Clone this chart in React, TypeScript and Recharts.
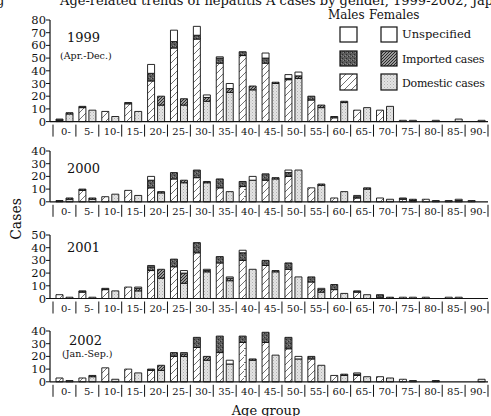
import React from 'react';
import { BarChart, Bar, XAxis, YAxis } from 'recharts';

const ageGroups = ['0-', '5-', '10-', '15-', '20-', '25-', '30-', '35-', '40-', '45-', '50-', '55-', '60-', '65-', '70-', '75-', '80-', '85-', '90-'];

// 1999 (Apr.-Dec.)
const male1999Domestic = [1, 11, 8, 14, 32, 58, 65, 46, 52, 46, 33, 17, 3, 9, 9, 1, 0, 0, 0];
const male1999Imported = [1, 1, 0, 1, 6, 5, 3, 4, 3, 4, 1, 3, 1, 0, 0, 0, 0, 0, 0];
const male1999Unspec = [0, 0, 0, 0, 7, 9, 7, 1, 0, 4, 3, 0, 0, 0, 0, 0, 0, 0, 0];
const female1999Domestic = [6, 9, 4, 8, 13, 13, 16, 23, 25, 30, 34, 11, 15, 11, 12, 1, 1, 2, 1];
const female1999Imported = [1, 0, 0, 0, 7, 5, 3, 3, 3, 1, 2, 2, 1, 0, 0, 0, 0, 0, 0];
const female1999Unspec = [0, 0, 0, 0, 0, 0, 2, 4, 0, 0, 3, 0, 0, 0, 0, 0, 0, 0, 0];

// 2000
const male2000Domestic = [0, 9, 4, 9, 11, 18, 19, 11, 12, 17, 20, 11, 3, 3, 3, 2, 2, 1, 1];
const male2000Imported = [1, 1, 0, 0, 6, 5, 6, 7, 4, 5, 3, 0, 0, 1, 0, 1, 0, 0, 0];
const male2000Unspec = [0, 0, 0, 0, 3, 0, 0, 0, 0, 0, 2, 0, 0, 1, 0, 0, 0, 0, 0];
const female2000Domestic = [2, 2, 6, 5, 7, 15, 15, 8, 17, 18, 25, 13, 8, 10, 2, 1, 1, 1, 0];
const female2000Imported = [1, 1, 0, 0, 1, 2, 1, 0, 0, 1, 0, 1, 0, 1, 0, 1, 0, 0, 0];
const female2000Unspec = [0, 0, 0, 0, 0, 0, 0, 0, 3, 0, 0, 0, 0, 0, 0, 0, 0, 1, 0];

// 2001
const male2001Domestic = [3, 5, 7, 9, 22, 25, 36, 28, 30, 26, 23, 13, 7, 5, 1, 1, 1, 1, 0];
const male2001Imported = [0, 1, 1, 0, 3, 6, 8, 5, 6, 4, 5, 4, 4, 1, 2, 0, 0, 0, 0];
const male2001Unspec = [0, 0, 0, 0, 1, 0, 0, 0, 2, 0, 0, 0, 0, 0, 0, 0, 0, 0, 0];
const female2001Domestic = [1, 1, 6, 6, 16, 12, 21, 14, 23, 21, 17, 5, 4, 3, 0, 1, 0, 1, 0];
const female2001Imported = [0, 0, 0, 2, 7, 8, 1, 2, 0, 1, 0, 2, 0, 0, 1, 0, 0, 0, 0];
const female2001Unspec = [0, 0, 0, 1, 0, 2, 1, 1, 0, 0, 0, 1, 0, 0, 0, 0, 0, 0, 0];

// 2002 (Jan.-Sep.)
const male2002Domestic = [3, 3, 11, 10, 9, 20, 27, 23, 31, 31, 26, 18, 5, 5, 4, 2, 0, 0, 0];
const male2002Imported = [0, 0, 0, 0, 1, 3, 8, 13, 5, 8, 9, 2, 0, 1, 0, 0, 0, 0, 0];
const male2002Unspec = [0, 0, 0, 0, 0, 0, 0, 0, 0, 0, 0, 0, 0, 1, 0, 0, 0, 0, 0];
const female2002Domestic = [1, 4, 2, 7, 9, 20, 17, 14, 17, 21, 18, 13, 5, 4, 3, 1, 0, 0, 2];
const female2002Imported = [0, 1, 0, 0, 4, 2, 3, 0, 1, 0, 0, 0, 1, 0, 0, 0, 1, 0, 0];
const female2002Unspec = [0, 0, 0, 0, 0, 1, 0, 3, 0, 0, 2, 0, 0, 0, 0, 0, 0, 0, 0];

const ticks80 = [0, 10, 20, 30, 40, 50, 60, 70, 80];
const ticks50 = [0, 10, 20, 30, 40, 50];
const ticks40 = [0, 10, 20, 30, 40];

const FONT = '"DejaVu Serif", "Liberation Serif", serif';
const INK = '#111';
const PX_PER_CASE = 1.27;

const buildRows = (md: number[], mi: number[], mu: number[], fd: number[], fi: number[], fu: number[]) =>
  ageGroups.map((age, i) => ({ age, md: md[i], mi: mi[i], mu: mu[i], fd: fd[i], fi: fi[i], fu: fu[i] }));

const rows1999 = buildRows(male1999Domestic, male1999Imported, male1999Unspec, female1999Domestic, female1999Imported, female1999Unspec);
const rows2000 = buildRows(male2000Domestic, male2000Imported, male2000Unspec, female2000Domestic, female2000Imported, female2000Unspec);
const rows2001 = buildRows(male2001Domestic, male2001Imported, male2001Unspec, female2001Domestic, female2001Imported, female2001Unspec);
const rows2002 = buildRows(male2002Domestic, male2002Imported, male2002Unspec, female2002Domestic, female2002Imported, female2002Unspec);

// age label centred in its group, with separator marks at the group edges
const AgeTick = (props: any) => {
  const { x, y, payload, index } = props;
  const half = payload && payload.offset ? payload.offset : 11.45;
  return (
    <g>
      <line x1={x - half} x2={x - half} y1={y + 3} y2={y + 15} stroke={INK} strokeWidth={1} />
      {index === ageGroups.length - 1 && (
        <line x1={x + half} x2={x + half} y1={y + 3} y2={y + 15} stroke={INK} strokeWidth={1} />
      )}
      <text x={x + 1.5} y={y + 10} textAnchor="middle" dominantBaseline="central" fontSize={10} fontFamily={FONT} fill={INK}>
        {payload.value}
      </text>
    </g>
  );
};

const Patterns = () => (
  <svg width={0} height={0} style={{ position: 'absolute' }}>
    <defs>
      <pattern id="pMaleDom" patternUnits="userSpaceOnUse" width={7} height={7}>
        <rect width={7} height={7} fill="#fff" />
        <path d="M-1,1 L1,-1 M0,7 L7,0 M6,8 L8,6" stroke="#333" strokeWidth={0.7} />
      </pattern>
      <pattern id="pMaleImp" patternUnits="userSpaceOnUse" width={4} height={4}>
        <rect width={4} height={4} fill="#5c5c5c" />
        <rect x={0} y={0} width={1} height={1} fill="#2c2c2c" />
        <rect x={2} y={2} width={1} height={1} fill="#2c2c2c" />
        <rect x={3} y={0} width={1} height={1} fill="#8a8a8a" />
        <rect x={1} y={3} width={1} height={1} fill="#8a8a8a" />
      </pattern>
      <pattern id="pFemDom" patternUnits="userSpaceOnUse" width={3} height={3}>
        <rect width={3} height={3} fill="#e4e4e4" />
        <rect x={0} y={0} width={1} height={1} fill="#b0b0b0" />
        <rect x={1.5} y={1.5} width={1} height={1} fill="#c2c2c2" />
      </pattern>
      <pattern id="pFemImp" patternUnits="userSpaceOnUse" width={3} height={3}>
        <rect width={3} height={3} fill="#9a9a9a" />
        <path d="M-1,1 L1,-1 M0,3 L3,0 M2,4 L4,2" stroke="#1e1e1e" strokeWidth={0.9} />
      </pattern>
    </defs>
  </svg>
);

const Panel = ({ rows, yMax, ticks, zeroY }: { rows: any[]; yMax: number; ticks: number[]; zeroY: number }) => {
  const plotH = yMax * PX_PER_CASE;
  const top = zeroY - plotH - 10;
  return (
    <div style={{ position: 'absolute', left: 0, top }}>
      <BarChart
        width={491}
        height={10 + plotH + 24}
        data={rows}
        margin={{ top: 10, right: 3, left: 0, bottom: 0 }}
        barSize={7}
        barGap={3}
      >
        <XAxis
          dataKey="age"
          interval={0}
          tickSize={0}
          tickMargin={0}
          height={24}
          padding={{ left: 3, right: 0 }}
          axisLine={{ stroke: INK, strokeWidth: 1.2 }}
          tickLine={false}
          tick={(p: any) => <AgeTick {...p} />}
        />
        <YAxis
          domain={[0, yMax]}
          ticks={ticks}
          interval={0}
          width={50}
          tickSize={4}
          tickMargin={0}
          stroke={INK}
          axisLine={{ stroke: INK, strokeWidth: 1.2 }}
          tick={{ fontSize: 11.5, fill: INK, fontFamily: FONT }}
        />
        <Bar dataKey="md" stackId="m" fill="url(#pMaleDom)" stroke={INK} strokeWidth={0.9} isAnimationActive={false} />
        <Bar dataKey="mi" stackId="m" fill="url(#pMaleImp)" stroke={INK} strokeWidth={0.9} isAnimationActive={false} />
        <Bar dataKey="mu" stackId="m" fill="#fff" stroke={INK} strokeWidth={0.9} isAnimationActive={false} />
        <Bar dataKey="fd" stackId="f" fill="url(#pFemDom)" stroke={INK} strokeWidth={0.9} isAnimationActive={false} />
        <Bar dataKey="fi" stackId="f" fill="url(#pFemImp)" stroke={INK} strokeWidth={0.9} isAnimationActive={false} />
        <Bar dataKey="fu" stackId="f" fill="#fff" stroke={INK} strokeWidth={0.9} isAnimationActive={false} />
      </BarChart>
    </div>
  );
};

const Overlay = () => (
  <svg width={491} height={416} style={{ position: 'absolute', left: 0, top: 0, pointerEvents: 'none' }} fontFamily={FONT} fill={INK}>
    <text x={-4} y={4.5} fontSize={13}>g</text>
    <text x={60} y={4.5} fontSize={13}>Age-related trends of hepatitis A cases by gender, 1999-2002, Japan</text>

    <text x={328} y={15} fontSize={12} dominantBaseline="central">Males</text>
    <text x={369} y={15} fontSize={12} dominantBaseline="central">Females</text>
    <rect x={340} y={27} width={17} height={15} fill="#fff" stroke={INK} strokeWidth={1.2} />
    <rect x={381} y={27} width={16} height={15} fill="#fff" stroke={INK} strokeWidth={1.2} />
    <rect x={340} y={51} width={17} height={15} fill="url(#pMaleImp)" stroke={INK} strokeWidth={1.2} />
    <rect x={381} y={51} width={16} height={15} fill="url(#pFemImp)" stroke={INK} strokeWidth={1.2} />
    <rect x={340} y={74} width={17} height={16} fill="url(#pMaleDom)" stroke={INK} strokeWidth={1.2} />
    <rect x={381} y={74} width={16} height={16} fill="url(#pFemDom)" stroke={INK} strokeWidth={1.2} />
    <text x={402} y={34} fontSize={11.5} dominantBaseline="central">Unspecified</text>
    <text x={402} y={59.5} fontSize={11} letterSpacing={-0.25} dominantBaseline="central">Imported cases</text>
    <text x={402} y={83} fontSize={11} letterSpacing={-0.25} dominantBaseline="central">Domestic cases</text>

    <text x={67} y={37.5} fontSize={13} dominantBaseline="central">1999</text>
    <text x={60} y={55} fontSize={9.5} dominantBaseline="central">(Apr.-Dec.)</text>
    <text x={67} y={168} fontSize={13} dominantBaseline="central">2000</text>
    <text x={67} y={247} fontSize={13} dominantBaseline="central">2001</text>
    <text x={69} y={340} fontSize={13} dominantBaseline="central">2002</text>
    <text x={62} y={353.5} fontSize={9.5} dominantBaseline="central">(Jan.-Sep.)</text>

    <text x={16} y={219} fontSize={14} textAnchor="middle" dominantBaseline="central" transform="rotate(-90 16 219)">Cases</text>
    <text x={266} y={410} fontSize={13} textAnchor="middle" dominantBaseline="central">Age group</text>
  </svg>
);

export default function App() {
  return (
    <div style={{ position: 'absolute', left: 0, top: 0, width: 491, height: 416, background: '#fff', overflow: 'hidden' }}>
      <Patterns />
      <Panel rows={rows1999} yMax={80} ticks={ticks80} zeroY={121.5} />
      <Panel rows={rows2000} yMax={40} ticks={ticks40} zeroY={201.7} />
      <Panel rows={rows2001} yMax={50} ticks={ticks50} zeroY={298.8} />
      <Panel rows={rows2002} yMax={40} ticks={ticks40} zeroY={381.3} />
      <Overlay />
    </div>
  );
}
